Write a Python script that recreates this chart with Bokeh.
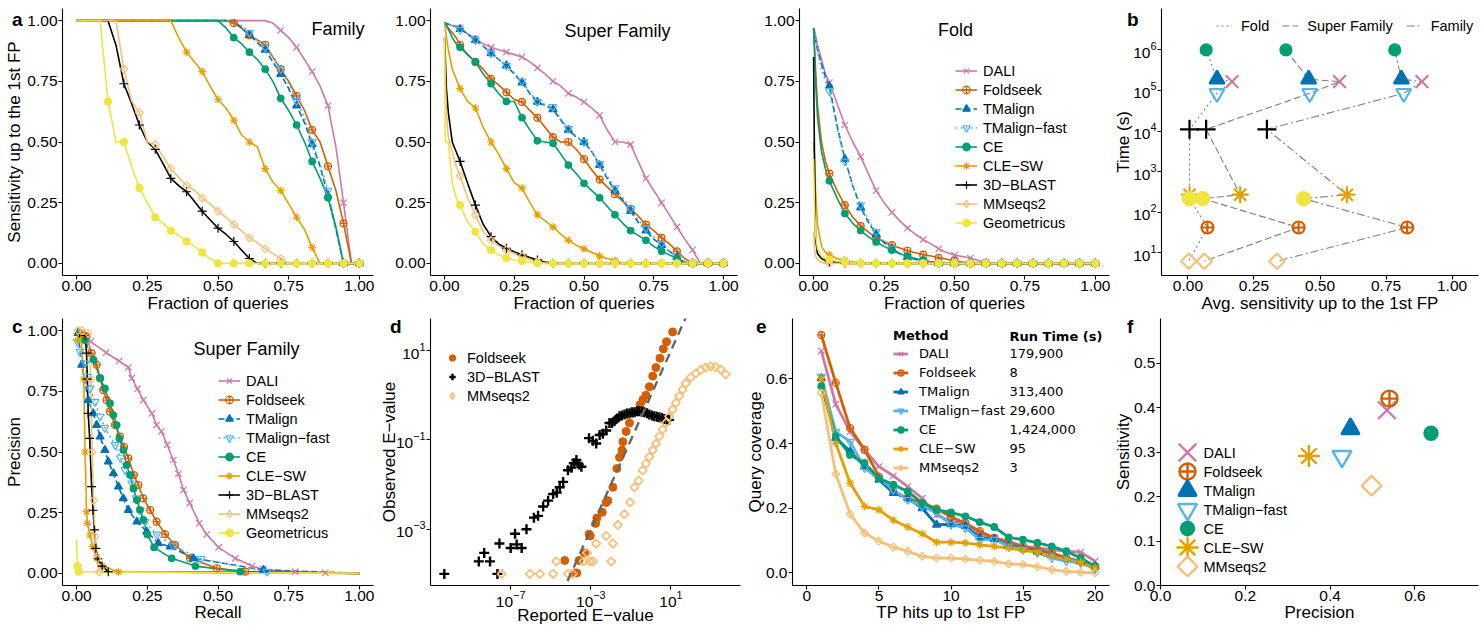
import math
from bokeh.plotting import figure
from bokeh.layouts import column, row
from bokeh.models import (Range1d, FixedTicker, PrintfTickFormatter, Label, Legend, LegendItem, Div)
from bokeh.embed import file_html
from bokeh.resources import INLINE

FONT = "Liberation Sans"
EFONT = "DejaVu Sans"
MINUS = "\u2212"
NAN = float("nan")

METHODS = ["DALI", "Foldseek", "TMalign", "TMalign-fast", "CE", "CLE-SW", "3D-BLAST", "MMseqs2", "Geometricus"]

FRAC = [0.0, 0.003, 0.007, 0.014, 0.028, 0.042, 0.056,
        0.083, 0.111, 0.139, 0.167, 0.194, 0.222, 0.25, 0.278, 0.306, 0.333,
        0.361, 0.389, 0.417, 0.444, 0.472, 0.5, 0.528, 0.556, 0.583, 0.611,
        0.639, 0.667, 0.694, 0.722, 0.75, 0.778, 0.806, 0.833, 0.861, 0.889,
        0.917, 0.944, 0.972, 1.0]
MARK_FRAC = [0.056, 0.111, 0.167, 0.222, 0.278, 0.333, 0.389, 0.444, 0.5, 0.556,
             0.611, 0.667, 0.722, 0.778, 0.833, 0.889, 0.944, 1.0]

FAM_DALI = [1, 1, 1, 1, 1, 1, 1,
            1, 1, 1, 1, 1, 1, 1, 1, 1, 1,
            1, 1, 1, 1, 1, 1, 1, 1, 1, 1,
            1, 1, 0.99, 0.96, 0.93, 0.89, 0.84, 0.79, 0.73, 0.65,
            0.48, 0.25, 0, 0]
FAM_FOLDSEEK = [1, 1, 1, 1, 1, 1, 1,
                1, 1, 1, 1, 1, 1, 1, 1, 1, 1,
                1, 1, 1, 1, 1, 1, 1, 0.99, 0.97, 0.94,
                0.92, 0.9, 0.85, 0.8, 0.75, 0.69, 0.63, 0.55, 0.5, 0.4,
                0.3, 0.165, 0, 0]
FAM_TMALIGN = [1, 1, 1, 1, 1, 1, 1,
               1, 1, 1, 1, 1, 1, 1, 1, 1, 1,
               1, 1, 1, 1, 1, 1, 1, 1, 0.97, 0.94,
               0.91, 0.88, 0.83, 0.78, 0.72, 0.65, 0.58, 0.49, 0.4, 0.28,
               0.14, 0, 0, 0]
FAM_TMFAST = [1, 1, 1, 1, 1, 1, 1,
              1, 1, 1, 1, 1, 1, 1, 1, 1, 1,
              1, 1, 1, 1, 1, 1, 1, 1, 0.98, 0.95,
              0.92, 0.89, 0.85, 0.8, 0.74, 0.67, 0.6, 0.5, 0.41, 0.3,
              0.15, 0, 0, 0]
FAM_CE = [1, 1, 1, 1, 1, 1, 1,
          1, 1, 1, 1, 1, 1, 1, 1, 1, 1,
          1, 1, 1, 1, 1, 1, 0.97, 0.93, 0.905, 0.87,
          0.84, 0.8, 0.75, 0.68, 0.63, 0.57, 0.5, 0.42, 0.35, 0.27,
          0.15, 0, 0, 0]
FAM_CLESW = [1, 1, 1, 1, 1, 1, 1,
             1, 1, 1, 1, 1, 1, 1, 1, 1, 1,
             0.93, 0.87, 0.83, 0.79, 0.73, 0.675, 0.64, 0.59, 0.53, 0.5,
             0.48, 0.39, 0.335, 0.3, 0.245, 0.19, 0.14, 0.065, 0, 0,
             0, 0, 0, 0]
FAM_3DBLAST = [1, 1, 1, 1, 1, 1, 1,
               1, 1, 0.9, 0.74, 0.66, 0.57, 0.5, 0.47, 0.41, 0.35,
               0.32, 0.295, 0.255, 0.215, 0.18, 0.145, 0.12, 0.09, 0.055, 0.02,
               0, 0, 0, 0, 0, 0, 0, 0, 0, 0,
               0, 0, 0, 0]
FAM_MMSEQS = [1, 1, 1, 1, 1, 1, 1,
              1, 1, 1, 0.8, 0.67, 0.62, 0.5, 0.49, 0.44, 0.39,
              0.355, 0.32, 0.3, 0.27, 0.245, 0.215, 0.19, 0.16, 0.135, 0.105,
              0.085, 0.06, 0.04, 0.02, 0, 0, 0, 0, 0, 0,
              0, 0, 0, 0]
FAM_GEOM = [1, 1, 1, 1, 1, 1, 1,
            1, 0.667, 0.5, 0.5, 0.4, 0.31, 0.25, 0.19, 0.165, 0.135,
            0.115, 0.09, 0.07, 0.045, 0.02, 0, 0, 0, 0, 0,
            0, 0, 0, 0, 0, 0, 0, 0, 0, 0,
            0, 0, 0, 0]

SF_DALI = [0.99, 0.99, 0.985, 0.985, 0.98, 0.975, 0.97,
           0.945, 0.925, 0.905, 0.89, 0.88, 0.87, 0.86, 0.85, 0.83, 0.805,
           0.78, 0.75, 0.73, 0.70, 0.685, 0.665, 0.64, 0.61, 0.55, 0.5,
           0.5, 0.49, 0.42, 0.35, 0.3, 0.25, 0.2, 0.15, 0.1, 0.055,
           0, 0, 0, 0]
SF_FOLDSEEK = [0.99, 0.99, 0.98, 0.97, 0.95, 0.93, 0.9,
               0.86, 0.83, 0.8, 0.76, 0.735, 0.705, 0.675, 0.665, 0.63, 0.6,
               0.56, 0.52, 0.5, 0.5, 0.47, 0.43, 0.385, 0.345, 0.315, 0.285,
               0.255, 0.225, 0.195, 0.16, 0.135, 0.105, 0.08, 0.05, 0.02, 0,
               0, 0, 0, 0]
SF_TMALIGN = [0.99, 0.99, 0.99, 0.985, 0.98, 0.975, 0.965,
              0.945, 0.92, 0.895, 0.865, 0.84, 0.815, 0.78, 0.745, 0.7, 0.665,
              0.65, 0.635, 0.59, 0.55, 0.52, 0.5, 0.46, 0.405, 0.35, 0.3,
              0.26, 0.215, 0.17, 0.135, 0.1, 0.075, 0.05, 0.027, 0.005, 0,
              0, 0, 0, 0]
SF_TMFAST = [0.99, 0.99, 0.99, 0.985, 0.98, 0.972, 0.962,
             0.945, 0.92, 0.895, 0.865, 0.84, 0.815, 0.785, 0.75, 0.705, 0.665,
             0.655, 0.645, 0.595, 0.555, 0.525, 0.5, 0.46, 0.41, 0.36, 0.31,
             0.27, 0.225, 0.18, 0.145, 0.11, 0.08, 0.05, 0.024, 0.004, 0,
             0, 0, 0, 0]
SF_CE = [0.99, 0.985, 0.98, 0.965, 0.93, 0.905, 0.89,
         0.86, 0.83, 0.78, 0.74, 0.7, 0.667, 0.667, 0.6, 0.55, 0.505,
         0.5, 0.495, 0.45, 0.405, 0.37, 0.33, 0.3, 0.27, 0.235, 0.2,
         0.165, 0.135, 0.115, 0.095, 0.07, 0.05, 0.035, 0.02, 0, 0,
         0, 0, 0, 0]
SF_CLESW = [0.99, 0.97, 0.93, 0.88, 0.8, 0.76, 0.72,
            0.667, 0.64, 0.56, 0.5, 0.45, 0.39, 0.333, 0.31, 0.25, 0.2,
            0.175, 0.15, 0.12, 0.095, 0.075, 0.06, 0.045, 0.03, 0.02, 0.012,
            0, 0, 0, 0, 0, 0, 0, 0, 0, 0,
            0, 0, 0, 0]
SF_3DBLAST = [0.93, 0.85, 0.72, 0.62, 0.5, 0.46, 0.42,
              0.33, 0.24, 0.16, 0.11, 0.08, 0.062, 0.048, 0.035, 0.024, 0.014,
              0.005, 0, 0, 0, 0, 0, 0, 0, 0, 0,
              0, 0, 0, 0, 0, 0, 0, 0, 0, 0,
              0, 0, 0, 0]
SF_MMSEQS = [0.9, 0.75, 0.62, 0.52, 0.46, 0.4, 0.36,
             0.27, 0.2, 0.13, 0.095, 0.072, 0.055, 0.04, 0.028, 0.016, 0.006,
             0, 0, 0, 0, 0, 0, 0, 0, 0, 0,
             0, 0, 0, 0, 0, 0, 0, 0, 0, 0,
             0, 0, 0, 0]
SF_GEOM = [0.93, 0.5, 0.5, 0.5, 0.33, 0.27, 0.24,
           0.17, 0.13, 0.08, 0.055, 0.035, 0.022, 0.015, 0.01, 0.005, 0,
           0, 0, 0, 0, 0, 0, 0, 0, 0, 0,
           0, 0, 0, 0, 0, 0, 0, 0, 0, 0,
           0, 0, 0, 0]

FOLD_DALI = [0.97, 0.96, 0.94, 0.9, 0.84, 0.78, 0.745,
             0.66, 0.57, 0.5, 0.44, 0.37, 0.3, 0.25, 0.21, 0.175, 0.145,
             0.12, 0.098, 0.08, 0.06, 0.045, 0.034, 0.028, 0.022, 0.012, 0.004,
             0, 0, 0, 0, 0, 0, 0, 0, 0, 0,
             0, 0, 0, 0]
FOLD_FOLDSEEK = [0.97, 0.9, 0.8, 0.65, 0.5, 0.42, 0.37,
                 0.3, 0.24, 0.19, 0.155, 0.13, 0.105, 0.09, 0.075, 0.063, 0.052,
                 0.044, 0.036, 0.03, 0.023, 0.017, 0.011, 0.005, 0, 0, 0,
                 0, 0, 0, 0, 0, 0, 0, 0, 0, 0,
                 0, 0, 0, 0]
FOLD_TMALIGN = [0.97, 0.95, 0.92, 0.88, 0.82, 0.77, 0.73,
                0.57, 0.43, 0.32, 0.23, 0.17, 0.12, 0.085, 0.06, 0.04, 0.025,
                0.016, 0.01, 0.005, 0, 0, 0, 0, 0, 0, 0,
                0, 0, 0, 0, 0, 0, 0, 0, 0, 0,
                0, 0, 0, 0]
FOLD_TMFAST = [0.97, 0.95, 0.92, 0.87, 0.8, 0.75, 0.71,
               0.56, 0.42, 0.32, 0.24, 0.18, 0.13, 0.09, 0.062, 0.042, 0.027,
               0.017, 0.01, 0.005, 0, 0, 0, 0, 0, 0, 0,
               0, 0, 0, 0, 0, 0, 0, 0, 0, 0,
               0, 0, 0, 0]
FOLD_CE = [0.97, 0.88, 0.75, 0.6, 0.46, 0.39, 0.34,
           0.27, 0.205, 0.165, 0.135, 0.11, 0.088, 0.07, 0.054, 0.04, 0.03,
           0.02, 0.013, 0.006, 0.002, 0, 0, 0, 0, 0, 0,
           0, 0, 0, 0, 0, 0, 0, 0, 0, 0,
           0, 0, 0, 0]
FOLD_CLESW = [0.5, 0.45, 0.3, 0.16, 0.07, 0.045, 0.035,
              0.02, 0.012, 0.006, 0.002, 0, 0, 0, 0, 0, 0,
              0, 0, 0, 0, 0, 0, 0, 0, 0, 0,
              0, 0, 0, 0, 0, 0, 0, 0, 0, 0,
              0, 0, 0, 0]
FOLD_3DBLAST = [0.85, 0.45, 0.1, 0.04, 0.02, 0.012, 0.006,
                0.003, 0, 0, 0, 0, 0, 0, 0, 0, 0,
                0, 0, 0, 0, 0, 0, 0, 0, 0, 0,
                0, 0, 0, 0, 0, 0, 0, 0, 0, 0,
                0, 0, 0, 0]
FOLD_MMSEQS = [0.13, 0.06, 0.03, 0.015, 0.005, 0, 0,
               0, 0, 0, 0, 0, 0, 0, 0, 0, 0,
               0, 0, 0, 0, 0, 0, 0, 0, 0, 0,
               0, 0, 0, 0, 0, 0, 0, 0, 0, 0,
               0, 0, 0, 0]
FOLD_GEOM = [0.43, 0.25, 0.12, 0.06, 0.03, 0.02, 0.015,
             0.01, 0.005, 0.002, 0, 0, 0, 0, 0, 0, 0,
             0, 0, 0, 0, 0, 0, 0, 0, 0, 0,
             0, 0, 0, 0, 0, 0, 0, 0, 0, 0,
             0, 0, 0, 0]

B_METHODS = ["CE", "TMalign", "DALI", "TMalign-fast", "3D-BLAST", "CLE-SW", "Geometricus", "Foldseek", "MMseqs2"]
B_TIME = [1.0e6, 1.9e5, 1.65e5, 8.5e4, 1.1e4, 270, 215, 42, 6.2]
B_FOLD = [0.069, 0.11, 0.167, 0.11, 0.006, 0.006, 0.006, 0.074, 0.003]
B_SF = [0.371, 0.457, 0.574, 0.461, 0.069, 0.198, 0.056, 0.419, 0.062]
B_FAM = [0.783, 0.808, 0.886, 0.817, 0.299, 0.602, 0.438, 0.83, 0.337]

PR_DALI_R = [0.012, 0.05, 0.104, 0.15, 0.183, 0.195, 0.215, 0.236, 0.266, 0.283, 0.3, 0.32, 0.342,
             0.36, 0.378, 0.4, 0.434, 0.46, 0.502, 0.561, 0.62, 0.661, 0.773, 0.88, 1.0]
PR_DALI_P = [0.99, 0.955, 0.909, 0.875, 0.849, 0.804, 0.76, 0.714, 0.659, 0.611, 0.585, 0.53, 0.467,
             0.41, 0.343, 0.29, 0.206, 0.16, 0.107, 0.062, 0.03, 0.016, 0.007, 0.002, 0.0]
PR_FOLDSEEK_R = [0.01, 0.035, 0.053, 0.071, 0.083, 0.094, 0.106, 0.118, 0.136, 0.153, 0.168, 0.183,
                 0.203, 0.218, 0.236, 0.26, 0.283, 0.313, 0.348, 0.401, 0.496, 0.596, 1.0]
PR_FOLDSEEK_P = [0.99, 0.975, 0.907, 0.859, 0.804, 0.755, 0.714, 0.666, 0.611, 0.563, 0.52, 0.474,
                 0.405, 0.364, 0.309, 0.261, 0.213, 0.162, 0.117, 0.062, 0.021, 0.007, 0.0]
PR_TMALIGN_R = [0.005, 0.018, 0.041, 0.059, 0.071, 0.083, 0.1, 0.112, 0.13, 0.148, 0.165, 0.183,
                0.213, 0.248, 0.289, 0.331, 0.413, 0.661, 1.0]
PR_TMALIGN_P = [0.99, 0.859, 0.714, 0.659, 0.611, 0.563, 0.508, 0.46, 0.412, 0.357, 0.309, 0.261,
                0.213, 0.172, 0.124, 0.11, 0.062, 0.014, 0.0]
PR_TMFAST_R = [0.002, 0.012, 0.03, 0.038, 0.047, 0.065, 0.083, 0.1, 0.136, 0.155, 0.171, 0.195,
               0.21, 0.225, 0.242, 0.284, 0.342, 0.44, 0.673, 1.0]
PR_TMFAST_P = [0.955, 0.913, 0.865, 0.81, 0.762, 0.707, 0.646, 0.6, 0.529, 0.475, 0.426, 0.371,
               0.31, 0.26, 0.213, 0.16, 0.113, 0.06, 0.007, 0.0]
PR_CE_R = [0.01, 0.03, 0.06, 0.083, 0.1, 0.118, 0.13, 0.142, 0.151, 0.165, 0.177, 0.189, 0.201,
           0.213, 0.224, 0.236, 0.25, 0.274, 0.336, 0.42, 0.579, 1.0]
PR_CE_P = [0.99, 0.96, 0.88, 0.804, 0.762, 0.7, 0.652, 0.611, 0.556, 0.508, 0.446, 0.405, 0.35,
           0.302, 0.261, 0.22, 0.16, 0.107, 0.062, 0.03, 0.007, 0.0]
PR_CLESW_R = [0.005, 0.015, 0.025, 0.03, 0.035, 0.038, 0.047, 0.057, 0.071, 0.09, 0.148, 1.0]
PR_CLESW_P = [0.96, 0.99, 0.8, 0.5, 0.254, 0.206, 0.158, 0.11, 0.062, 0.03, 0.007, 0.0]
PR_3DBLAST_R = [0.01, 0.03, 0.035, 0.038, 0.041, 0.046, 0.053, 0.058, 0.063, 0.068, 0.075, 0.09, 0.112, 1.0]
PR_3DBLAST_P = [0.99, 0.98, 0.907, 0.8, 0.659, 0.556, 0.357, 0.26, 0.179, 0.103, 0.06, 0.03, 0.007, 0.0]
PR_MMSEQS_R = [0.005, 0.02, 0.04, 0.05, 0.055, 0.06, 0.065, 0.072, 0.08, 1.0]
PR_MMSEQS_P = [1.0, 1.0, 0.99, 0.8, 0.5, 0.3, 0.151, 0.06, 0.005, 0.0]
PR_GEOM_R = [0.0, 0.003, 0.008, 1.0]
PR_GEOM_P = [0.137, 0.03, 0.007, 0.0]

EV_FOLDSEEK_LX = [-4.30, -3.80, -3.70, -3.59, -3.31, -3.09, -3.03, -2.76, -2.70, -2.43,
                  -2.23, -2.15, -1.90, -1.70, -1.57, -1.44, -1.40, -1.24, -1.07, -0.91,
                  -0.54, -0.40, -0.25, -0.08, 0.09, 0.25, 0.45, 0.62, 0.78, 1.08]
EV_FOLDSEEK_LY = [-3.70, -3.98, -3.98, -3.70, -3.53, -3.11, -3.15, -2.87, -2.75, -2.62,
                  -2.40, -2.36, -2.06, -1.64, -1.39, -1.23, -1.04, -0.81, -0.62, -0.40,
                  -0.21, -0.10, 0.0, 0.19, 0.43, 0.62, 0.83, 1.04, 1.20, 1.42]
EV_BLAST_LX = [-10.31, -8.59, -8.32, -8.03, -7.66, -7.56, -7.0, -6.78, -6.70, -6.45,
               -6.21, -5.84, -5.63, -5.38, -5.13, -4.88, -4.70, -4.55, -4.38, -4.14,
               -3.97, -3.85, -3.72, -3.60, -3.47, -3.09, -2.90, -2.73, -2.56, -2.40,
               -2.23, -2.07, -1.95, -1.82, -1.70, -1.57, -1.45, -1.32, -1.20, -1.07,
               -0.95, -0.82, -0.70, -0.58, -0.45, -0.33, -0.20, -0.08, 0.05, 0.17,
               0.30, 0.42, 0.55, 0.67, 0.80, 0.91]
EV_BLAST_LY = [-4.0, -3.72, -3.53, -3.72, -4.0, -3.32, -3.42, -3.10, -3.34, -3.42,
               -3.0, -2.74, -2.70, -2.49, -2.36, -2.21, -2.18, -2.06, -1.94, -1.68,
               -1.62, -1.52, -1.45, -1.55, -1.60, -0.96, -1.02, -1.08, -0.89, -0.86,
               -0.79, -0.62, -0.62, -0.58, -0.52, -0.47, -0.45, -0.43, -0.41, -0.40,
               -0.38, -0.38, -0.36, -0.36, -0.37, -0.38, -0.40, -0.43, -0.45, -0.47,
               -0.48, -0.49, -0.51, -0.53, -0.54, -0.55]
EV_MMSEQS_LX = [-7.45, -6.04, -5.54, -4.88, -4.72, -4.14, -3.90, -3.36, -3.19, -3.05,
                -2.89, -2.73, -2.23, -1.98, -1.90, -1.65, -1.32, -1.04, -0.82, -0.61,
                -0.41, -0.25, -0.08, 0.09, 0.25, 0.42, 0.58, 0.75, 0.91, 1.08,
                1.25, 1.41, 1.58, 1.74, 1.99, 2.24, 2.49, 2.74, 2.98, 3.23,
                3.48, 3.73]
EV_MMSEQS_LY = [-4.0, -4.0, -4.0, -4.0, -3.72, -4.0, -4.0, -3.72, -3.53, -3.72,
                -3.72, -3.32, -3.15, -3.72, -3.32, -2.90, -2.66, -2.40, -2.06, -1.91,
                -1.68, -1.53, -1.38, -1.23, -1.08, -0.92, -0.77, -0.62, -0.47, -0.32,
                -0.17, -0.02, 0.13, 0.27, 0.40, 0.49, 0.57, 0.62, 0.65, 0.63,
                0.58, 0.47]
IDENTITY = [1e-6, 1e3]

TP_HITS = [1, 2, 3, 4, 5, 6, 7, 8, 9, 10, 11, 12, 13, 14, 15, 16, 17, 18, 19, 20]
COV_DALI = [0.687, 0.522, 0.437, 0.381, 0.329, 0.3, 0.267, 0.231, 0.18, 0.159,
            0.154, 0.123, 0.108, 0.098, 0.082, 0.077, 0.072, 0.067, 0.064, 0.036]
COV_FOLDSEEK = [0.736, 0.588, 0.448, 0.381, 0.298, 0.252, 0.231, 0.216, 0.199, 0.173,
                0.154, 0.129, 0.108, 0.093, 0.082, 0.072, 0.062, 0.046, 0.036, 0.015]
COV_TMALIGN = [0.602, 0.417, 0.376, 0.329, 0.288, 0.247, 0.231, 0.2, 0.149, 0.15,
               0.145, 0.11, 0.105, 0.085, 0.075, 0.065, 0.055, 0.045, 0.035, 0.02]
COV_TMFAST = [0.607, 0.437, 0.406, 0.324, 0.293, 0.257, 0.226, 0.206, 0.185, 0.149,
              0.139, 0.103, 0.103, 0.082, 0.072, 0.062, 0.046, 0.036, 0.031, 0.012]
COV_CE = [0.578, 0.422, 0.365, 0.34, 0.293, 0.273, 0.252, 0.216, 0.195, 0.187,
          0.175, 0.157, 0.142, 0.11, 0.103, 0.093, 0.082, 0.067, 0.046, 0.021]
COV_CLESW = [0.602, 0.401, 0.278, 0.206, 0.195, 0.163, 0.142, 0.121, 0.095, 0.095,
             0.093, 0.087, 0.082, 0.077, 0.07, 0.064, 0.053, 0.043, 0.033, 0.015]
COV_MMSEQS = [0.556, 0.306, 0.182, 0.123, 0.098, 0.08, 0.067, 0.051, 0.046, 0.046,
              0.043, 0.039, 0.036, 0.028, 0.026, 0.019, 0.01, 0.005, 0.002, 0.0]
E_METHODS = ["DALI", "Foldseek", "TMalign", "TMalign-fast", "CE", "CLE-SW", "MMseqs2"]
RUN_TIME_S = [179900, 8, 313400, 29600, 1424000, 95, 3]

F_METHODS = ["DALI", "Foldseek", "TMalign", "TMalign-fast", "CE", "CLE-SW", "MMseqs2"]
F_PREC = [0.534, 0.54, 0.448, 0.428, 0.638, 0.35, 0.498]
F_SENS = [0.394, 0.42, 0.352, 0.29, 0.342, 0.291, 0.224]

PANEL_LETTERS = ["a", "b", "c", "d", "e", "f"]

STYLE = {
    "DALI": dict(color="#CC79A7", marker="x", filled=False, dash="solid", angle=0.0),
    "Foldseek": dict(color="#D55E00", marker="circle_cross", filled=False, dash="solid", angle=0.0),
    "TMalign": dict(color="#0072B2", marker="triangle", filled=True, dash="6 3", angle=0.0),
    "TMalign-fast": dict(color="#56B4E9", marker="inverted_triangle", filled=False, dash="2 3", angle=0.0),
    "CE": dict(color="#009E73", marker="circle", filled=True, dash="solid", angle=0.0),
    "CLE-SW": dict(color="#E69F00", marker="asterisk", filled=False, dash="solid", angle=0.0),
    "3D-BLAST": dict(color="#000000", marker="cross", filled=False, dash="solid", angle=0.0),
    "MMseqs2": dict(color="#F5C07A", marker="square", filled=False, dash="solid", angle=math.pi / 4),
    "Geometricus": dict(color="#F0E442", marker="circle", filled=True, dash="solid", angle=0.0),
}
SIZE_S = {"DALI": 9, "Foldseek": 7, "TMalign": 8, "TMalign-fast": 8, "CE": 6.5,
          "CLE-SW": 8, "3D-BLAST": 9, "MMseqs2": 5.5, "Geometricus": 7}
SIZE_B = {"DALI": 18, "Foldseek": 12, "TMalign": 15, "TMalign-fast": 15, "CE": 11,
          "CLE-SW": 17, "3D-BLAST": 19, "MMseqs2": 11, "Geometricus": 13}
SIZE_F = {"DALI": 25, "Foldseek": 16, "TMalign": 18, "TMalign-fast": 19, "CE": 13,
          "CLE-SW": 22, "MMseqs2": 14}

TOP_H, BOT_H = 318, 310
FH = 267  # frame height in both rows


def disp(m):
    return m.replace("-", MINUS)


def make_fig(width, height, xr, yr, bl, br, bt, bb, x_type="linear", y_type="linear"):
    p = figure(width=width, height=height, x_range=xr, y_range=yr,
               x_axis_type=x_type, y_axis_type=y_type,
               output_backend="svg", toolbar_location=None,
               min_border_left=bl, min_border_right=br, min_border_top=bt, min_border_bottom=bb)
    p.outline_line_color = None
    p.xgrid.visible = False
    p.ygrid.visible = False
    p.background_fill_color = "white"
    p.border_fill_color = None
    return p


def style_axes(p, xlabel, ylabel, xticks, yticks, xfmt=None, yfmt=None, xstand=0, ystand=0):
    for ax in list(p.xaxis) + list(p.yaxis):
        ax.axis_line_color = "black"
        ax.axis_line_width = 1.1
        ax.major_tick_line_color = "black"
        ax.major_tick_line_width = 1.1
        ax.major_tick_out = 4
        ax.major_tick_in = 0
        ax.minor_tick_line_color = None
        ax.major_label_text_font = FONT
        ax.major_label_text_font_size = "15.5px"
        ax.major_label_text_color = "black"
        ax.major_label_standoff = 1
        ax.axis_label_text_font = FONT
        ax.axis_label_text_font_size = "17px"
        ax.axis_label_text_font_style = "normal"
        ax.axis_label_text_color = "black"
    p.xaxis.axis_label_standoff = xstand
    p.yaxis.axis_label_standoff = ystand
    if xlabel:
        p.xaxis.axis_label = xlabel
    if ylabel:
        p.yaxis.axis_label = ylabel
    p.xaxis.ticker = FixedTicker(ticks=xticks)
    p.yaxis.ticker = FixedTicker(ticks=yticks)
    if xfmt:
        p.xaxis.formatter = PrintfTickFormatter(format=xfmt)
    if yfmt:
        p.yaxis.formatter = PrintfTickFormatter(format=yfmt)


def add_text(p, x, y, text, size, align="left", baseline="alphabetic", bold=False, font=FONT):
    p.add_layout(Label(x=x, y=y, x_units="screen", y_units="screen", text=text,
                       text_font=font, text_font_size=size, text_align=align,
                       text_baseline=baseline, text_color="black",
                       text_font_style="bold" if bold else "normal"))


def add_points(p, xs, ys, m, sizes, lw, marker=None, filled=None):
    st = STYLE[m]
    mk = marker if marker else st["marker"]
    fl = st["filled"] if filled is None else filled
    return p.scatter(x=xs, y=ys, marker=mk, size=sizes[m], angle=st["angle"],
                     line_color=st["color"], line_width=lw,
                     fill_color=st["color"] if fl else None)


def legend_key(p, m, r, lw=1.2):
    """MMseqs2 legend key shown as a diamond (an undrawn NaN point used only by the legend)."""
    if m != "MMseqs2":
        return r
    return p.scatter(x=[NAN], y=[NAN], marker="diamond", size=8, line_color=STYLE[m]["color"],
                     line_width=lw, fill_color=None)


def make_legend(items, loc, gw, gh, standoff, font=FONT, size="14.5px", spacing=0,
                orientation="vertical"):
    leg = Legend(items=items, location=loc, orientation=orientation)
    leg.label_text_font = font
    leg.label_text_font_size = size
    leg.label_text_color = "black"
    leg.glyph_width = gw
    leg.glyph_height = gh
    leg.label_height = gh
    leg.label_standoff = standoff
    leg.spacing = spacing
    leg.padding = 0
    leg.margin = 0
    leg.border_line_color = None
    leg.background_fill_alpha = 0
    return leg


TICKS4 = [0.0, 0.25, 0.5, 0.75, 1.0]


def curve_panel(width, bl, br, curves, xlabel, ylabel):
    p = make_fig(width, TOP_H, Range1d(-0.05, 1.05), Range1d(-0.05, 1.05), bl, br, 8, 43)
    style_axes(p, xlabel, ylabel, TICKS4, TICKS4, "%.2f", "%.2f")
    lines, marks = {}, {}
    for m in METHODS:
        st = STYLE[m]
        ys = curves[m]
        assert len(ys) == len(FRAC), m
        lines[m] = p.line(FRAC, ys, line_color=st["color"], line_width=1.6,
                          line_dash=st["dash"], line_join="round")
    for m in METHODS:
        ys = curves[m]
        idx = [k for k, f in enumerate(FRAC) if f in MARK_FRAC and ys[k] < 1.0]
        marks[m] = add_points(p, [FRAC[k] for k in idx], [ys[k] for k in idx], m, SIZE_S, 1.2)
    return p, lines, marks


FAMILY = dict(zip(METHODS, [FAM_DALI, FAM_FOLDSEEK, FAM_TMALIGN, FAM_TMFAST, FAM_CE, FAM_CLESW,
                            FAM_3DBLAST, FAM_MMSEQS, FAM_GEOM]))
SUPERFAM = dict(zip(METHODS, [SF_DALI, SF_FOLDSEEK, SF_TMALIGN, SF_TMFAST, SF_CE, SF_CLESW,
                              SF_3DBLAST, SF_MMSEQS, SF_GEOM]))
FOLD = dict(zip(METHODS, [FOLD_DALI, FOLD_FOLDSEEK, FOLD_TMALIGN, FOLD_TMFAST, FOLD_CE, FOLD_CLESW,
                          FOLD_3DBLAST, FOLD_MMSEQS, FOLD_GEOM]))

# ---- a: Family ----
p1, _, _ = curve_panel(376, 62, 3, FAMILY, "Fraction of queries", "Sensitivity up to the 1st FP")
add_text(p1, 302, FH - 20, "Family", "18px", align="right")

# ---- Super Family ----
p2, _, _ = curve_panel(365, 54, 4, SUPERFAM, "Fraction of queries", None)
add_text(p2, 187, FH - 22, "Super Family", "18px", align="center")

# ---- Fold ----
p3, l3, m3 = curve_panel(369, 58, 1, FOLD, "Fraction of queries", None)
add_text(p3, 156, FH - 21, "Fold", "18px", align="center")
p3.add_layout(make_legend([LegendItem(label=disp(m), renderers=[l3[m], legend_key(p3, m, m3[m])])
                           for m in METHODS], (156, 43), 22, 19, 6))

# ---- b: time vs sensitivity ----
p4 = make_fig(370, TOP_H, Range1d(-0.1, 1.1), Range1d(10 ** 0.44, 10 ** 7.02), 51, 2, 8, 43, y_type="log")
style_axes(p4, "Avg. sensitivity up to the 1st FP", "Time (s)", TICKS4,
           [1e1, 1e2, 1e3, 1e4, 1e5, 1e6], "%.2f", None, ystand=-3)
b_items = []
for name, xs, dash in [("Fold", B_FOLD, "2 3"), ("Super Family", B_SF, "7 3"), ("Family", B_FAM, "8 3 2 3")]:
    r = p4.line(xs, B_TIME, line_color="#7F7F7F", line_width=1.1, line_dash=dash)
    b_items.append(LegendItem(label=name, renderers=[r]))
for m in METHODS:
    i = B_METHODS.index(m)
    add_points(p4, [B_FOLD[i], B_SF[i], B_FAM[i]], [B_TIME[i]] * 3, m, SIZE_B, 2.2)
p4.add_layout(make_legend(b_items, (55, 240), 16, 19, 9, spacing=13, orientation="horizontal"))

# ---- c: precision-recall ----
PR = {"DALI": (PR_DALI_R, PR_DALI_P), "Foldseek": (PR_FOLDSEEK_R, PR_FOLDSEEK_P),
      "TMalign": (PR_TMALIGN_R, PR_TMALIGN_P), "TMalign-fast": (PR_TMFAST_R, PR_TMFAST_P),
      "CE": (PR_CE_R, PR_CE_P), "CLE-SW": (PR_CLESW_R, PR_CLESW_P),
      "3D-BLAST": (PR_3DBLAST_R, PR_3DBLAST_P), "MMseqs2": (PR_MMSEQS_R, PR_MMSEQS_P),
      "Geometricus": (PR_GEOM_R, PR_GEOM_P)}
p5 = make_fig(376, BOT_H, Range1d(-0.05, 1.05), Range1d(-0.05, 1.05), 62, 3, 0, 43)
style_axes(p5, "Recall", "Precision", TICKS4, TICKS4, "%.2f", "%.2f", xstand=-1)
l5, m5 = {}, {}
for m in METHODS:
    rr, pp = PR[m]
    st = STYLE[m]
    l5[m] = p5.line(rr, pp, line_color=st["color"], line_width=1.6, line_dash=st["dash"], line_join="round")
for m in METHODS:
    rr, pp = PR[m]
    idx = [k for k in range(len(rr)) if 0 < rr[k] < 1]
    m5[m] = add_points(p5, [rr[k] for k in idx], [pp[k] for k in idx], m, SIZE_S, 1.2)
p5.add_layout(make_legend([LegendItem(label=disp(m), renderers=[l5[m], legend_key(p5, m, m5[m])])
                           for m in METHODS], (156, 43), 22, 19, 6))
add_text(p5, 184, FH - 30, "Super Family", "18px", align="center")

# ---- d: E-value calibration ----
p6 = make_fig(365, BOT_H, Range1d(10 ** -11.0, 10 ** 4.47), Range1d(10 ** -4.26, 10 ** 1.72), 54, 1, 0, 43,
              x_type="log", y_type="log")
style_axes(p6, "Reported E" + MINUS + "value", "Observed E" + MINUS + "value",
           [1e-7, 1e-3, 1e1], [1e-3, 1e-1, 1e1], xstand=-4, ystand=-6)
rF = p6.scatter([10 ** v for v in EV_FOLDSEEK_LX], [10 ** v for v in EV_FOLDSEEK_LY], marker="circle",
                size=8, fill_color=STYLE["Foldseek"]["color"], line_color=STYLE["Foldseek"]["color"])
rB = p6.scatter([10 ** v for v in EV_BLAST_LX], [10 ** v for v in EV_BLAST_LY], marker="cross",
                size=10, line_color="black", line_width=2.4)
rM = p6.scatter([10 ** v for v in EV_MMSEQS_LX], [10 ** v for v in EV_MMSEQS_LY], marker="square",
                angle=math.pi / 4, size=6, fill_color=None, line_color=STYLE["MMseqs2"]["color"], line_width=1.8)
p6.line(IDENTITY, IDENTITY, line_color="#666666", line_width=2.4, line_dash="9 6")
p6.add_layout(make_legend([LegendItem(label="Foldseek", renderers=[rF]),
                           LegendItem(label="3D" + MINUS + "BLAST", renderers=[rB]),
                           LegendItem(label="MMseqs2", renderers=[legend_key(p6, "MMseqs2", rM, 1.8)])],
                          (14, 180), 16, 19, 7))

# ---- e: query coverage ----
COV = dict(zip(E_METHODS, [COV_DALI, COV_FOLDSEEK, COV_TMALIGN, COV_TMFAST, COV_CE, COV_CLESW, COV_MMSEQS]))
p7 = make_fig(369, BOT_H, Range1d(-1, 21), Range1d(-0.039, 0.787), 51, 1, 0, 43)
style_axes(p7, "TP hits up to 1st FP", "Query coverage", [0, 5, 10, 15, 20], [0.0, 0.2, 0.4, 0.6],
           "%d", "%.1f", xstand=-1, ystand=-2)
l7, m7 = {}, {}
for m in E_METHODS:
    st = STYLE[m]
    l7[m] = p7.line(TP_HITS, COV[m], line_color=st["color"], line_width=2.8, line_join="round")
for m in E_METHODS:
    m7[m] = add_points(p7, TP_HITS, COV[m], m, SIZE_S, 1.3)
leg7 = make_legend([LegendItem(label=disp(m), renderers=[l7[m], legend_key(p7, m, m7[m])]) for m in E_METHODS],
                   (101, 108), 15, 19, 11, font=EFONT, size="13px")
leg7.title = "Method"
leg7.title_text_font = EFONT
leg7.title_text_font_size = "13px"
leg7.title_text_font_style = "bold"
leg7.title_text_color = "black"
leg7.title_standoff = 1
p7.add_layout(leg7)
add_text(p7, 217, FH - 18, "Run Time (s)", "13px", baseline="middle", bold=True, font=EFONT)
for i, t in enumerate(RUN_TIME_S):
    add_text(p7, 217, FH - 35 - 19 * i, f"{t:,}", "13px", baseline="middle", font=EFONT)

# ---- f: sensitivity vs precision ----
F_XR, F_YR = (0.0, 0.75), (0.0, 0.6)
p8 = make_fig(370, BOT_H, Range1d(*F_XR), Range1d(*F_YR), 50, 2, 0, 43)
style_axes(p8, "Precision", "Sensitivity", [0.0, 0.2, 0.4, 0.6], [0.0, 0.1, 0.2, 0.3, 0.4, 0.5],
           "%.1f", "%.1f", xstand=-1, ystand=-2)
for i, m in enumerate(F_METHODS):
    add_points(p8, [F_PREC[i]], [F_SENS[i]], m, SIZE_F, 2.4)
FW8 = 370 - 50 - 2
for i, m in enumerate(F_METHODS):
    row_px = 134 + 19 * i  # legend row centre, px below the frame top
    kx = F_XR[0] + 27 / FW8 * (F_XR[1] - F_XR[0])
    ky = F_YR[1] - row_px / FH * (F_YR[1] - F_YR[0])
    add_points(p8, [kx], [ky], m, SIZE_F, 2.4)
    add_text(p8, 43, FH - row_px, disp(m), "14.5px", baseline="middle")

# ---- panel letters: HTML overlay in the figure margins (page pixels) ----
LETTER_POS = [(12, -2), (1127, -2), (12, 305), (390, 305), (756, 305), (1127, 305)]
spans = "".join(
    f"<span style=\"position:absolute;left:{x}px;top:{y}px;font-family:'Liberation Sans';"
    f"font-weight:bold;font-size:19px;line-height:19px;color:black;white-space:nowrap;\">{t}</span>"
    for t, (x, y) in zip(PANEL_LETTERS, LETTER_POS))
letters = Div(text=f"<div style=\"position:relative;width:0;height:0;overflow:visible;\">{spans}</div>",
              width=1, height=0, margin=0, styles={"overflow": "visible"})

page = column(letters,
              row(p1, p2, p3, p4, spacing=0),
              row(p5, p6, p7, p8, spacing=0),
              spacing=0)
open("out.html", "w").write(file_html(page, INLINE))
